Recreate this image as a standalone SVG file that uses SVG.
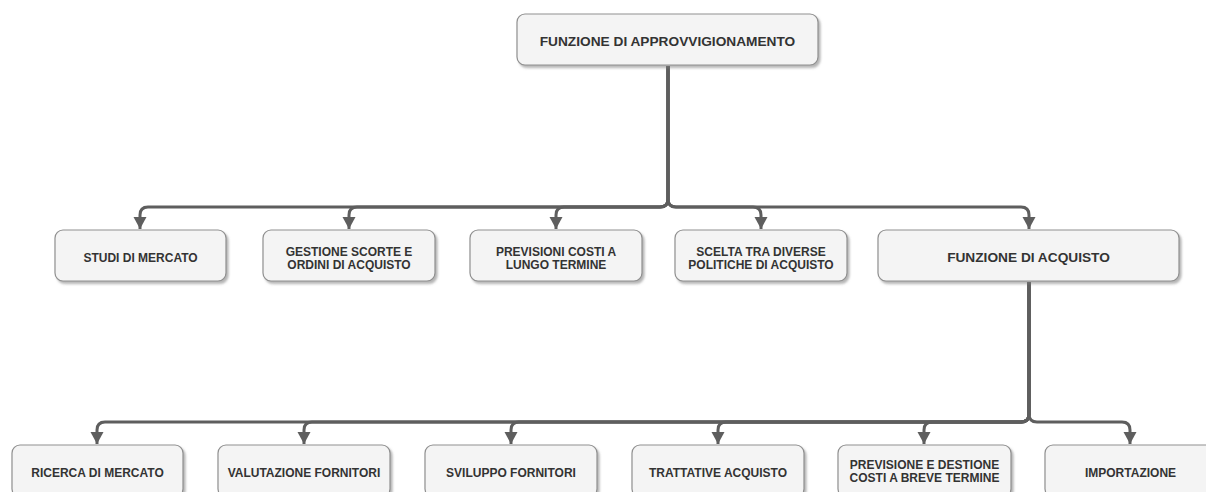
<svg xmlns="http://www.w3.org/2000/svg" width="1206" height="492" viewBox="0 0 1206 492">
  <style>
    .box { fill: #f4f4f4; stroke: #8f8f8f; stroke-width: 1.2; filter: url(#shadow); }
    .lbl { font-family: "Liberation Sans", Arial, sans-serif; font-weight: bold; font-size: 12px; fill: #333333; text-anchor: middle; }
    .top { font-size: 13.7px; }
    .edge { fill: none; stroke: #5e5e5e; stroke-width: 3; marker-end: url(#arrow); }
  </style>
  <defs>
    <filter id="shadow" x="-10%" y="-20%" width="130%" height="160%">
      <feDropShadow dx="2" dy="2.5" stdDeviation="1.2" flood-color="#7a7a7a" flood-opacity="0.55"/>
    </filter>
    <marker id="arrow" markerUnits="userSpaceOnUse" markerWidth="14" markerHeight="14" refX="12" refY="6.5" orient="auto">
      <path d="M0,0 L12,6.5 L0,13 Z" fill="#5e5e5e"/>
    </marker>
  </defs>

  <!-- connectors -->
  <g id="connectors">
    <path class="edge" d="M668,66 V199 Q668,207 660,207 H148 Q140,207 140,215 V229"/>
    <path class="edge" d="M668,66 V199 Q668,207 660,207 H357 Q349,207 349,215 V229"/>
    <path class="edge" d="M668,66 V199 Q668,207 660,207 H564 Q556,207 556,215 V229"/>
    <path class="edge" d="M668,66 V199 Q668,207 676,207 H753 Q761,207 761,215 V229"/>
    <path class="edge" d="M668,66 V199 Q668,207 676,207 H1021 Q1029,207 1029,215 V229"/>

    <path class="edge" d="M1029,282 V414 Q1029,422 1021,422 H105 Q97,422 97,430 V444"/>
    <path class="edge" d="M1029,282 V414 Q1029,422 1021,422 H312 Q304,422 304,430 V444"/>
    <path class="edge" d="M1029,282 V414 Q1029,422 1021,422 H519 Q511,422 511,430 V444"/>
    <path class="edge" d="M1029,282 V414 Q1029,422 1021,422 H726 Q718,422 718,430 V444"/>
    <path class="edge" d="M1029,282 V414 Q1029,422 1021,422 H932 Q924,422 924,430 V444"/>
    <path class="edge" d="M1029,282 V414 Q1029,422 1037,422 H1122 Q1130,422 1130,430 V444"/>
  </g>

  <!-- root -->
  <g id="n-approvvigionamento">
    <rect class="box" x="517" y="14" width="301" height="51" rx="8"/>
    <text class="lbl top" x="667.5" y="45.5">FUNZIONE DI APPROVVIGIONAMENTO</text>
  </g>

  <!-- first level -->
  <g id="n-studi">
    <rect class="box" x="55" y="230" width="171" height="51" rx="8"/>
    <text class="lbl" x="140.5" y="261.5">STUDI DI MERCATO</text>
  </g>
  <g id="n-gestione">
    <rect class="box" x="263" y="230" width="172" height="51" rx="8"/>
    <text class="lbl" x="349" y="255.5">GESTIONE SCORTE E</text>
    <text class="lbl" x="349" y="268.5">ORDINI DI ACQUISTO</text>
  </g>
  <g id="n-previsioni">
    <rect class="box" x="470" y="230" width="172" height="51" rx="8"/>
    <text class="lbl" x="556" y="255.5">PREVISIONI COSTI A</text>
    <text class="lbl" x="556" y="268.5">LUNGO TERMINE</text>
  </g>
  <g id="n-scelta">
    <rect class="box" x="675" y="230" width="172" height="51" rx="8"/>
    <text class="lbl" x="761" y="255.5">SCELTA TRA DIVERSE</text>
    <text class="lbl" x="761" y="268.5">POLITICHE DI ACQUISTO</text>
  </g>
  <g id="n-acquisto">
    <rect class="box" x="878" y="230" width="301" height="51" rx="8"/>
    <text class="lbl top" x="1028.5" y="261.5">FUNZIONE DI ACQUISTO</text>
  </g>

  <!-- second level -->
  <g id="n-ricerca">
    <rect class="box" x="12" y="445" width="171" height="52" rx="8"/>
    <text class="lbl" x="97.5" y="476.5">RICERCA DI MERCATO</text>
  </g>
  <g id="n-valutazione">
    <rect class="box" x="218" y="445" width="172" height="52" rx="8"/>
    <text class="lbl" x="304" y="476.5">VALUTAZIONE FORNITORI</text>
  </g>
  <g id="n-sviluppo">
    <rect class="box" x="425" y="445" width="172" height="52" rx="8"/>
    <text class="lbl" x="511" y="476.5">SVILUPPO FORNITORI</text>
  </g>
  <g id="n-trattative">
    <rect class="box" x="632" y="445" width="172" height="52" rx="8"/>
    <text class="lbl" x="718" y="476.5">TRATTATIVE ACQUISTO</text>
  </g>
  <g id="n-previsione-breve">
    <rect class="box" x="838" y="445" width="173" height="52" rx="8"/>
    <text class="lbl" x="924.5" y="468.5">PREVISIONE E DESTIONE</text>
    <text class="lbl" x="924.5" y="481.5">COSTI A BREVE TERMINE</text>
  </g>
  <g id="n-importazione">
    <rect class="box" x="1045" y="445" width="172" height="52" rx="8"/>
    <text class="lbl" x="1130.5" y="476.5">IMPORTAZIONE</text>
  </g>
</svg>
